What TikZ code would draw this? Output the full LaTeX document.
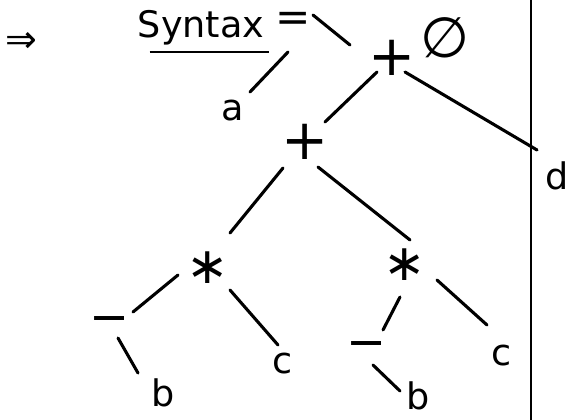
\documentclass[tikz,border=0pt]{standalone}
\usepackage{fontspec}
\newfontfamily\symfont{DejaVu Sans}
\usetikzlibrary{calc}

\begin{document}
\begin{tikzpicture}[x=0.025cm,y=-0.025cm,
  tok/.style={font=\fontsize{26}{30}\selectfont\symfont,inner sep=0pt},
  op/.style={font=\fontsize{40}{44}\selectfont\symfont,inner sep=0pt},
  link/.style={line width=2.2pt,line cap=round}]
  \useasboundingbox (0,0) rectangle (571,420);
  \clip (0,0) rectangle (571,420);
  % heading
  \node[op,font=\fontsize{27}{31}\selectfont\symfont] (impl) at(21,42){⇒};
  \node[tok,anchor=base] (syn) at(201,38){Syntax};
  \draw[line width=1.6pt] ($(syn.base west)+(12,14)$) -- ($(syn.base east)+(5,14)$);
  % right margin rule
  \draw[line width=0.9pt] (531,0) -- (531,420);
  % tree nodes
  \node[op,font=\fontsize{30}{34}\selectfont\symfont] (eq) at(293,22){=};
  \node[op] (plusA) at(392,58){+};
  \node[op] (empty) at(445,38){∅};
  \node[tok] (a) at(233,111){a};
  \node[tok] (d) at(557,176){d};
  \node[op] (plusB) at(305,142){+};
  \node[op,font=\fontsize{36}{40}\selectfont\symfont] (starL) at(208,268){∗};
  \node[op,font=\fontsize{36}{40}\selectfont\symfont] (starR) at(405,265){∗};
  \node[op,font=\fontsize{34}{38}\selectfont\symfont] (minL) at(110,325){−};
  \node[op,font=\fontsize{34}{38}\selectfont\symfont] (minR) at(367,350){−};
  \node[tok] (cL) at(283,364){c};
  \node[tok] (cR) at(502,356){c};
  \node[tok] (bL) at(163,393){b};
  \node[tok] (bR) at(418,396){b};
  % links
  \draw[link] ($(eq)+(20,-7)$) -- ($(plusA)+(-42,-13)$);
  \draw[link] ($(eq)+(-5,30)$) -- ($(a)+(17,-19)$);
  \draw[link] ($(plusA)+(-15,14)$) -- ($(plusB)+(20,-20)$);
  \draw[link] ($(plusA)+(13,14)$) -- ($(d)+(-20,-26)$);
  \draw[link] ($(plusB)+(-22,26)$) -- ($(starL)+(22,-35)$);
  \draw[link] ($(plusB)+(13,25)$) -- ($(starR)+(5,-25)$);
  \draw[link] ($(starL)+(-30,7)$) -- ($(minL)+(23,-13)$);
  \draw[link] ($(starL)+(22,22)$) -- ($(cL)+(-5,-19)$);
  \draw[link] ($(minL)+(8,13)$) -- ($(bL)+(-25,-20)$);
  \draw[link] ($(starR)+(-5,32)$) -- ($(minR)+(16,-20)$);
  \draw[link] ($(starR)+(32,15)$) -- ($(cR)+(-15,-31)$);
  \draw[link] ($(minR)+(6,15)$) -- ($(bR)+(-18,-5)$);
\end{tikzpicture}
\end{document}
